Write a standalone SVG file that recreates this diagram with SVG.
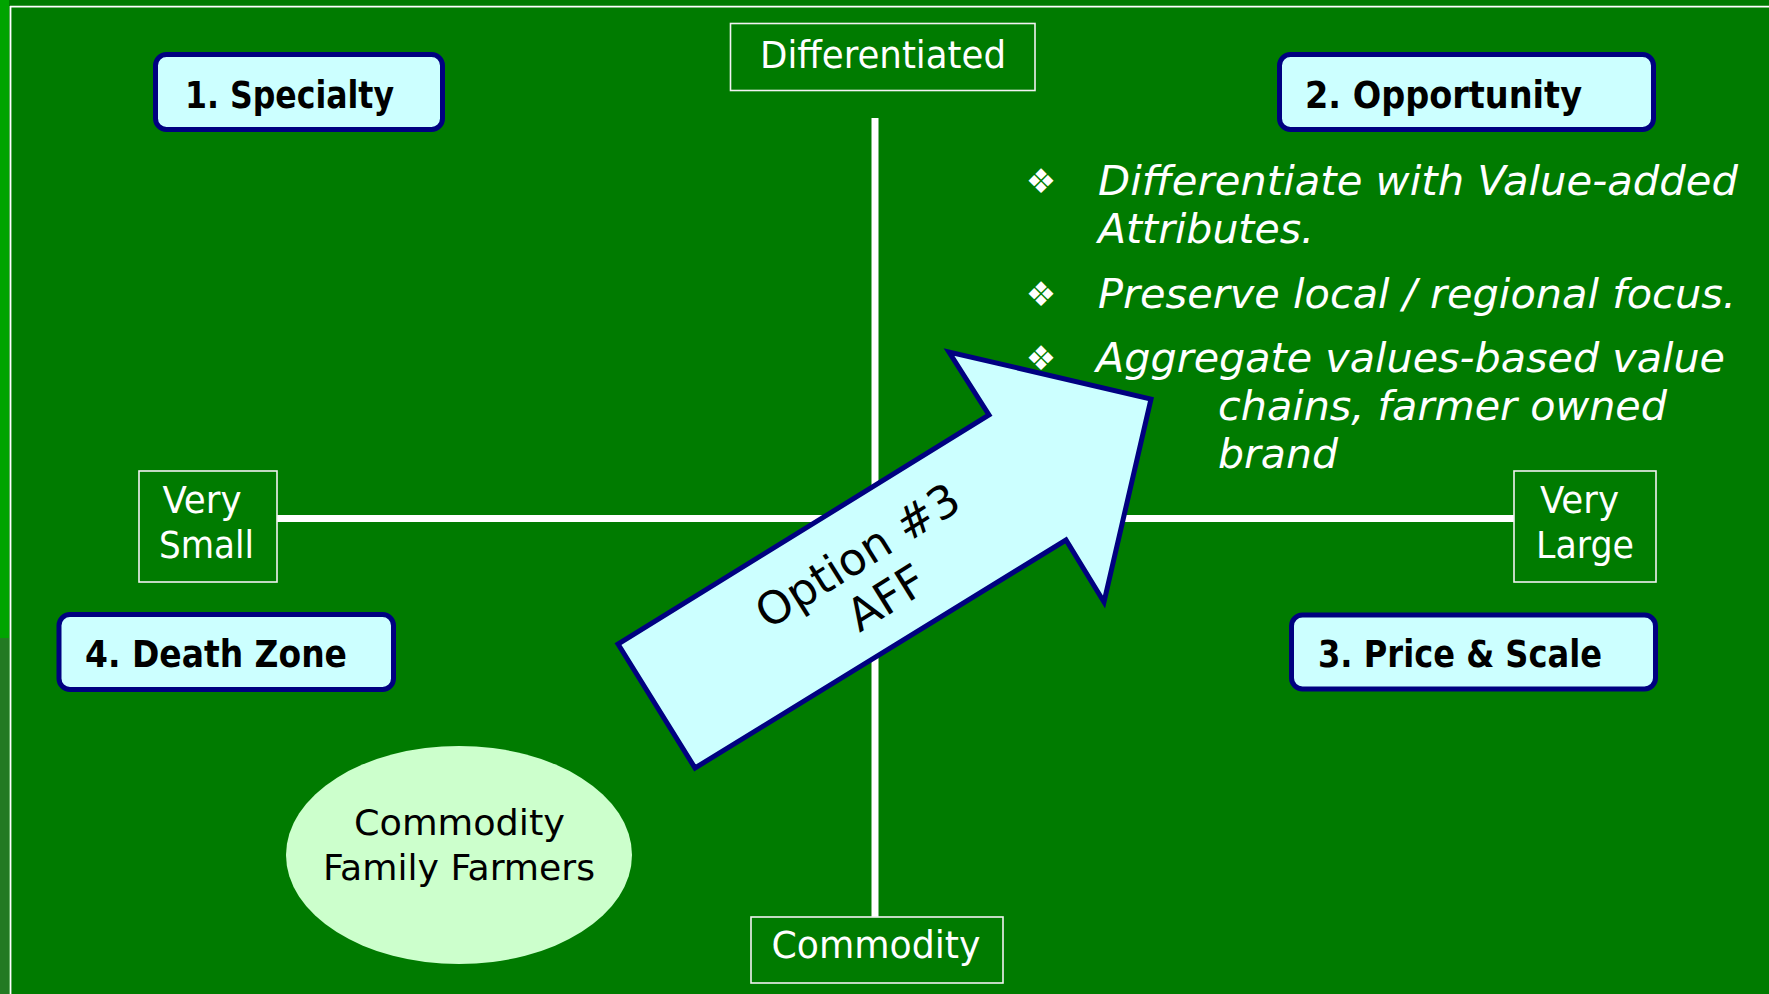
<svg xmlns="http://www.w3.org/2000/svg" width="1769" height="994" viewBox="0 0 1769 994">
<style>
.box{fill:#CCFFFF;stroke:#000080;stroke-width:5}
.lbl{font-family:"DejaVu Sans Condensed","DejaVu Sans",sans-serif;font-weight:bold;font-size:37px;fill:#000}
.axbox{fill:none;stroke:#F2F2F2;stroke-width:1.6}
.axt{font-family:"DejaVu Sans Condensed","DejaVu Sans",sans-serif;font-size:37px;fill:#fff;text-anchor:middle}
.axis{stroke:#fff;stroke-width:7;fill:none}
.bul{font-family:"DejaVu Sans Condensed","DejaVu Sans",sans-serif;font-style:italic;font-size:41px;fill:#fff}
.dia{font-family:"DejaVu Sans",sans-serif;font-size:34px;fill:#fff;text-anchor:middle}
.ell{font-family:"DejaVu Sans Condensed","DejaVu Sans",sans-serif;font-size:36px;fill:#000;text-anchor:middle}
.arr{font-family:"DejaVu Sans",sans-serif;font-size:45px;fill:#000;text-anchor:middle}
</style>
<rect x="0" y="0" width="1769" height="994" fill="#007B00"/>
<rect x="0" y="0" width="9" height="638" fill="#00A400"/>
<rect x="0" y="638" width="9" height="356" fill="#237A23"/>
<line x1="10.5" y1="6" x2="10.5" y2="994" stroke="#fff" stroke-width="1.8"/>
<line x1="10" y1="6.7" x2="1769" y2="6.7" stroke="#fff" stroke-width="1.8"/>

<g id="connectors">
<line class="axis" x1="875" y1="118" x2="875" y2="917"/>
<line class="axis" x1="277" y1="518.5" x2="1514" y2="518.5"/>
</g>

<g id="differentiated">
<rect class="axbox" x="730.5" y="23.5" width="304.5" height="67"/>
<text class="axt" x="883" y="68" textLength="246" lengthAdjust="spacingAndGlyphs">Differentiated</text>
</g>
<g id="commodity">
<rect class="axbox" x="751" y="917" width="252" height="66"/>
<text class="axt" x="876" y="958" textLength="209" lengthAdjust="spacingAndGlyphs">Commodity</text>
</g>
<g id="very-small">
<rect class="axbox" x="139" y="471" width="138" height="111"/>
<text class="axt" x="202" y="513" textLength="79" lengthAdjust="spacingAndGlyphs">Very</text>
<text class="axt" x="206.5" y="558" textLength="95" lengthAdjust="spacingAndGlyphs">Small</text>
</g>
<g id="very-large">
<rect class="axbox" x="1514" y="471" width="142" height="111"/>
<text class="axt" x="1579.5" y="513" textLength="79" lengthAdjust="spacingAndGlyphs">Very</text>
<text class="axt" x="1585" y="558" textLength="98" lengthAdjust="spacingAndGlyphs">Large</text>
</g>

<g id="specialty">
<rect class="box" x="155.5" y="54.5" width="287" height="75" rx="11"/>
<text class="lbl" x="185" y="108" textLength="209" lengthAdjust="spacingAndGlyphs">1. Specialty</text>
</g>
<g id="opportunity">
<rect class="box" x="1279.5" y="54.5" width="374" height="75" rx="11"/>
<text class="lbl" x="1305" y="108" textLength="277" lengthAdjust="spacingAndGlyphs">2. Opportunity</text>
</g>
<g id="price-scale">
<rect class="box" x="1291.5" y="615" width="364" height="74" rx="11"/>
<text class="lbl" x="1318" y="667" textLength="284" lengthAdjust="spacingAndGlyphs">3. Price &amp; Scale</text>
</g>
<g id="death-zone">
<rect class="box" x="59" y="614.5" width="334.5" height="75" rx="11"/>
<text class="lbl" x="85" y="667" textLength="262" lengthAdjust="spacingAndGlyphs">4. Death Zone</text>
</g>

<g id="opportunity-bullets">
<text class="dia" x="1041" y="193">❖</text>
<text class="bul" x="1098" y="195" textLength="640" lengthAdjust="spacingAndGlyphs">Differentiate with Value-added</text>
<text class="bul" x="1098" y="243" textLength="216" lengthAdjust="spacingAndGlyphs">Attributes.</text>
<text class="dia" x="1041" y="306">❖</text>
<text class="bul" x="1098" y="308" textLength="638" lengthAdjust="spacingAndGlyphs">Preserve local / regional focus.</text>
<text class="dia" x="1041" y="370">❖</text>
</g>

<g id="family-farmers">
<ellipse cx="459" cy="855" rx="173" ry="109" fill="#CCFFCC"/>
<text class="ell" x="459.5" y="835" textLength="211" lengthAdjust="spacingAndGlyphs">Commodity</text>
<text class="ell" x="459" y="880" textLength="272" lengthAdjust="spacingAndGlyphs">Family Farmers</text>
</g>

<g id="option3-arrow">
<polygon class="box" stroke-linejoin="miter" points="618,644 695,768 1066,540 1104,602 1151,399 949,352 989,415"/>
<g transform="translate(871.5,576) rotate(-32)">
<text class="arr" x="-1" y="-9">Option #3</text>
<text class="arr" x="1" y="42">AFF</text>
</g>
</g>

<g id="aggregate-text">
<text class="bul" x="1096" y="372" textLength="629" lengthAdjust="spacingAndGlyphs">Aggregate values-based value</text>
<text class="bul" x="1218" y="420" textLength="449" lengthAdjust="spacingAndGlyphs">chains, farmer owned</text>
<text class="bul" x="1218" y="468" textLength="120" lengthAdjust="spacingAndGlyphs">brand</text>
</g>
</svg>
